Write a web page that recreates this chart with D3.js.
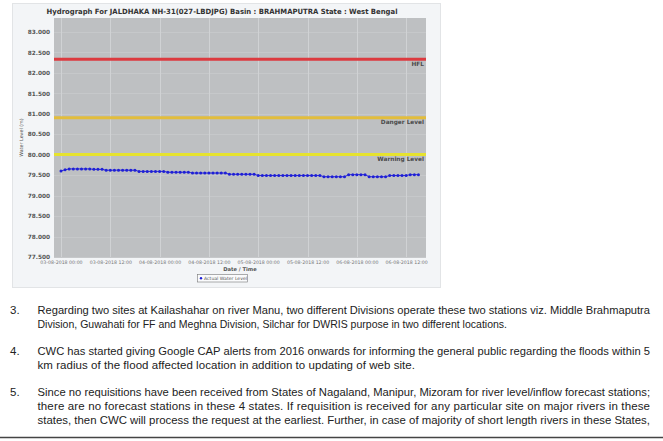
<!DOCTYPE html>
<html><head><meta charset="utf-8">
<script src="https://cdn.jsdelivr.net/npm/d3@7"></script>
<style>
html,body{margin:0;padding:0;background:#fff;}
svg{display:block;}
</style></head>
<body>
<svg id="c" width="663" height="441"></svg>
<script>
// ---- data ----
const title = "Hydrograph For JALDHAKA NH-31(027-LBDJPG) Basin : BRAHMAPUTRA State : West Bengal";
const startTime = new Date(2018, 7, 3, 0, 0);   // first hourly reading
const waterLevel = [
  79.60, 79.63, 79.65, 79.65, 79.65, 79.65, 79.65, 79.65, 79.64, 79.64,
  79.64, 79.62, 79.62, 79.62, 79.62, 79.62, 79.62, 79.62, 79.62, 79.59,
  79.59, 79.59, 79.59, 79.59, 79.59, 79.59, 79.57, 79.57, 79.57, 79.57,
  79.57, 79.57, 79.55, 79.55, 79.55, 79.55, 79.55, 79.55, 79.55, 79.55,
  79.55, 79.52, 79.52, 79.52, 79.52, 79.52, 79.52, 79.52, 79.49, 79.49,
  79.49, 79.49, 79.49, 79.49, 79.49, 79.49, 79.49, 79.49, 79.49, 79.49,
  79.49, 79.49, 79.49, 79.49, 79.46, 79.46, 79.46, 79.46, 79.46, 79.46,
  79.51, 79.51, 79.51, 79.51, 79.51, 79.46, 79.46, 79.46, 79.46, 79.46,
  79.49, 79.49, 79.49, 79.49, 79.49, 79.51, 79.51, 79.51
];
const levelNames = ["HFL", "Danger Level", "Warning Level"];
const levelValues = [82.33, 80.90, 80.00];
const levelColors = ["#dc3a3f", "#e2bd3c", "#e6e22e"];
const yTicks = [77.5, 78, 78.5, 79, 79.5, 80, 80.5, 81, 81.5, 82, 82.5, 83];
const xTickLabels = ["03-08-2018 00:00","03-08-2018 12:00","04-08-2018 00:00","04-08-2018 12:00",
                     "05-08-2018 00:00","05-08-2018 12:00","06-08-2018 00:00","06-08-2018 12:00"];
const yLabel = "Water Level (m)";
const xLabel = "Date / Time";
const legendLabel = "Actual Water Level";

const paraNumbers = ["3.", "4.", "5."];
const paraLines = [
  ["Regarding two sites at Kailashahar on river Manu, two different Divisions operate these two stations viz. Middle Brahmaputra",
   "Division, Guwahati for FF and Meghna Division, Silchar for DWRIS purpose in two different locations."],
  ["CWC has started giving Google CAP alerts from 2016 onwards for informing the general public regarding the floods within 5",
   "km radius of the flood affected location in addition to updating of web site."],
  ["Since no requisitions have been received from States of Nagaland, Manipur, Mizoram for river level/inflow forecast stations;",
   "there are no forecast stations in these 4 states. If requisition is received for any particular site on major rivers in these",
   "states, then CWC will process the request at the earliest. Further, in case of majority of short length rivers in these States,"]
];
const paraLineEnds = [[650, 507], [650, 415], [650, 650, 650]];

// ---- drawing ----
const svg = d3.select("#c");
const parse = d3.timeParse("%d-%m-%Y %H:%M");
const fmt = d3.timeFormat("%d-%m-%Y %H:%M");
const data = waterLevel.map((v,i)=>({t: d3.timeHour.offset(startTime, i), v}));

const plot = {left:54, right:426, top:18, bottom:257};
const x = d3.scaleTime()
  .domain([new Date(2018,7,2,22,18), new Date(2018,7,6,16,50)])
  .range([plot.left, plot.right]);
const y = d3.scaleLinear().domain([77.5, 83.335]).range([plot.bottom, plot.top]);

// outer panel
svg.append("rect").attr("x",12.5).attr("y",3.5).attr("width",428).attr("height",284)
  .attr("fill","#f3f5f7").attr("stroke","#e2e4e6");

// title
svg.append("text").attr("x",222).attr("y",14).attr("text-anchor","middle")
  .attr("font-family","DejaVu Sans").attr("font-weight","bold").attr("font-size",7.2)
  .attr("fill","#333").attr("textLength",351).attr("lengthAdjust","spacingAndGlyphs").text(title);

// plot bg
svg.append("rect").attr("x",plot.left).attr("y",plot.top)
  .attr("width",plot.right-plot.left).attr("height",plot.bottom-plot.top).attr("fill","#bec0c2");

// horizontal grid
svg.append("g").selectAll("line").data(yTicks).join("line")
  .attr("x1",plot.left).attr("x2",plot.right)
  .attr("y1",d=>Math.round(y(d))+0.5).attr("y2",d=>Math.round(y(d))+0.5)
  .attr("stroke","#c6c8ca").attr("stroke-width",1);

// vertical grid
const xTickDates = xTickLabels.map(parse);
svg.append("g").selectAll("line").data(xTickDates).join("line")
  .attr("x1",d=>Math.round(x(d))+0.5).attr("x2",d=>Math.round(x(d))+0.5)
  .attr("y1",plot.top).attr("y2",plot.bottom)
  .attr("stroke","#d0d2d4").attr("stroke-width",1);

// y axis
const yAxis = d3.axisLeft(y).tickValues(yTicks).tickFormat(d3.format(".3f")).tickSize(0).tickPadding(3);
const ya = svg.append("g").attr("transform",`translate(${plot.left-1},0)`).call(yAxis);
ya.select(".domain").remove();
ya.selectAll("text").attr("font-family","DejaVu Sans").attr("font-weight","bold")
  .attr("font-size",5.8).attr("fill","#555");

// x axis
const xAxis = d3.axisBottom(x).tickValues(xTickDates).tickFormat(fmt).tickSize(0).tickPadding(4);
const xa = svg.append("g").attr("transform",`translate(0,${plot.bottom})`).call(xAxis);
xa.select(".domain").remove();
xa.selectAll("text").attr("font-family","DejaVu Sans").attr("font-size",4.7).attr("fill","#777");

// axis labels
svg.append("text").attr("x",plot.left+(plot.right-plot.left)/2).attr("y",271)
  .attr("text-anchor","middle").attr("font-family","DejaVu Sans").attr("font-weight","bold")
  .attr("font-size",5.2).attr("fill","#555").text(xLabel);
svg.append("text").attr("transform",`translate(23,${(plot.top+plot.bottom)/2}) rotate(-90)`)
  .attr("text-anchor","middle").attr("font-family","DejaVu Sans")
  .attr("font-size",4.8).attr("fill","#555").text(yLabel);

// threshold lines
const lv = levelNames.map((n,i)=>({n, v:levelValues[i], c:levelColors[i]}));
svg.append("g").selectAll("line").data(lv).join("line")
  .attr("x1",plot.left).attr("x2",plot.right)
  .attr("y1",d=>y(d.v)).attr("y2",d=>y(d.v))
  .attr("stroke",d=>d.c).attr("stroke-width",3);
svg.append("g").selectAll("text").data(lv).join("text")
  .attr("x",plot.right-2).attr("y",d=>y(d.v)+6.5).attr("text-anchor","end")
  .attr("font-family","DejaVu Sans").attr("font-weight","bold").attr("font-size",5.8)
  .attr("fill","#4a4a4a").text(d=>d.n);

// water level series
svg.append("path").datum(data)
  .attr("d", d3.line().x(d=>x(d.t)).y(d=>y(d.v)))
  .attr("fill","none").attr("stroke","#2a2ad8").attr("stroke-width",1);
svg.append("g").selectAll("circle").data(data).join("circle")
  .attr("cx",d=>x(d.t)).attr("cy",d=>y(d.v)).attr("r",1.5).attr("fill","#1f1fd6");

// legend
const lg = svg.append("g");
lg.append("rect").attr("x",197.5).attr("y",274.5).attr("width",50).attr("height",7.5)
  .attr("fill","#fafbfc").attr("stroke","#777").attr("stroke-width",0.6);
lg.append("circle").attr("cx",201).attr("cy",278.2).attr("r",1.2).attr("fill","#1f1fd6");
lg.append("text").attr("x",204).attr("y",279.9).attr("font-family","DejaVu Sans")
  .attr("font-size",4.6).attr("fill","#555").text(legendLabel);

// paragraphs (font sized so natural width fits, then justified by spacing)
const pTop = [314, 355, 396];
const lineH = 14;
const tg = svg.append("g").attr("font-family","'Liberation Sans Narrow', 'Arial Narrow', sans-serif")
  .attr("font-size",11.5).attr("fill","#222");
paraNumbers.forEach((num,i)=>{
  tg.append("text").attr("x",10).attr("y",pTop[i]).text(num);
  paraLines[i].forEach((ln,j)=>{
    const t = tg.append("text").attr("x",37.5).attr("y",pTop[i]+j*lineH).text(ln);
    const natural = t.node().getComputedTextLength();
    const target = paraLineEnds[i][j]-37.5;
    if (natural > target) {
      t.attr("font-size", 11.5*target/natural);
    }
    t.attr("textLength",target).attr("lengthAdjust","spacing");
  });
});

// bottom rule
svg.append("line").attr("x1",0).attr("x2",663).attr("y1",437.5).attr("y2",437.5)
  .attr("stroke","#444").attr("stroke-width",1.5);
</script>
</body></html>
